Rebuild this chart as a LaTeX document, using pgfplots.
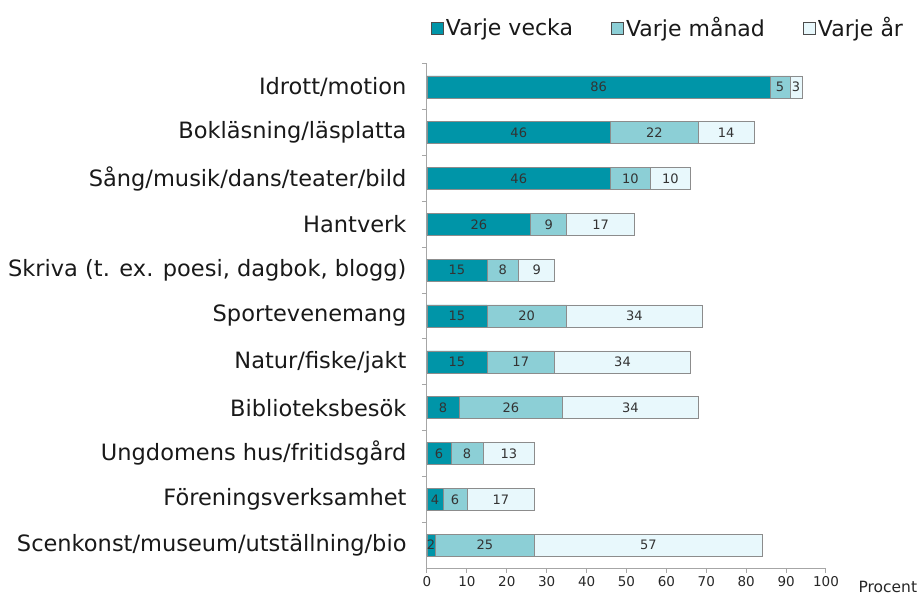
\documentclass[border=0pt]{standalone}
\usepackage{pgfplots}
\pgfplotsset{compat=1.18}
\usepackage{pgfplotstable}
\usepackage{fontspec}
\setmainfont{DejaVu Sans}

\definecolor{cweek}{HTML}{0095A8}
\definecolor{cmonth}{HTML}{8CCFD6}
\definecolor{cyear}{HTML}{E8F8FC}
\definecolor{axgray}{HTML}{A6A6A6}
\definecolor{bargray}{HTML}{8C8C8C}

\pgfplotstableread{
idx week month year
0 86 5 3
1 46 22 14
2 46 10 10
3 26 9 17
4 15 8 9
5 15 20 34
6 15 17 34
7 8 26 34
8 6 8 13
9 4 6 17
10 2 25 57
}\data

\pgfplotsset{
  seglabel/.style={
    visualization depends on={\thisrow{#1} \as \myval},
    nodes near coords={\pgfmathprintnumber[precision=0]{\myval}},
  }
}

\begin{document}
\begin{tikzpicture}
\useasboundingbox (0,0) rectangle (922pt,596pt);
\begin{axis}[
  at={(427pt,28pt)}, anchor=south west,
  scale only axis, width=399pt, height=504pt,
  xbar stacked, bar width=22pt,
  xmin=0, xmax=100, ymin=-0.5, ymax=10.5, y dir=reverse,
  axis x line*=bottom, axis y line*=left,
  axis line style={draw=axgray, line width=1pt},
  tick style={draw=axgray, line width=1pt},
  tick align=outside, major tick length=5pt,
  xtick={0,10,...,100},
  ytick={-0.5,0.5,...,9.5},
  yticklabels={Idrott/motion, Bokläsning/läsplatta, Sång/musik/dans/teater/bild, Hantverk, {Skriva (t. ex. poesi, dagbok, blogg)}, Sportevenemang, Natur/fiske/jakt, Biblioteksbesök, Ungdomens hus/fritidsgård, Föreningsverksamhet, Scenkonst/museum/utställning/bio},
  yticklabel style={font=\fontsize{22.5}{26}\selectfont, text=black!90, xshift=-12pt, yshift=-22.9pt},
  xticklabel style={font=\fontsize{13.5}{16}\selectfont, text=black!85},
  /pgf/number format/assume math mode=true,
  every node near coord/.append style={anchor=center,
      font=\fontsize{13}{15}\selectfont, text=black!80, inner sep=0pt},
  xlabel={Procent},
  xlabel style={at={(axis description cs:1,0)}, anchor=west, xshift=29pt, yshift=-19pt, font=\fontsize{15.5}{18}\selectfont, text=black!85},
  legend columns=3,
  legend style={draw=none, fill=none, at={(axis description cs:0.003,1.0714)}, anchor=west,
    font=\fontsize{22}{26}\selectfont, text=black!90,
    /tikz/every even column/.append style={column sep=36.5pt}},
  legend image code/.code={\draw[#1, draw=black!70, line width=0.6pt] (0pt,-6pt) rectangle (12pt,6pt);},
]
\addplot[fill=cweek, draw=bargray, line width=0.6pt, seglabel=week] table[x=week, y=idx] {\data};
\addplot[fill=cmonth, draw=bargray, line width=0.6pt, seglabel=month] table[x=month, y=idx] {\data};
\addplot[fill=cyear, draw=bargray, line width=0.6pt, seglabel=year] table[x=year, y=idx] {\data};
\legend{Varje vecka, Varje månad, Varje år}
\end{axis}
\end{tikzpicture}
\end{document}
